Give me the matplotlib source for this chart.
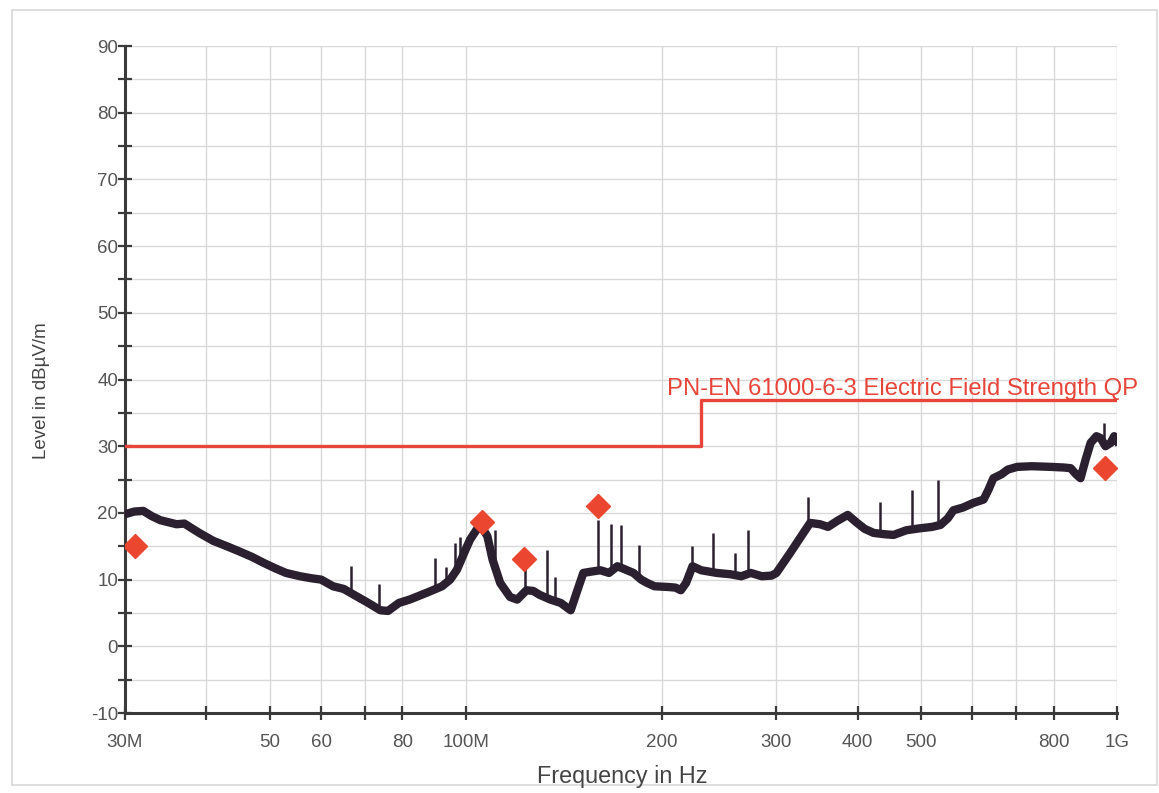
import numpy as np
import matplotlib
matplotlib.use("Agg")
import matplotlib.pyplot as plt
from matplotlib.patches import Rectangle

plt.rcParams['font.family'] = ['Liberation Sans', 'DejaVu Sans']
plt.rcParams['axes.unicode_minus'] = False

# ---- data (MHz, dBuV/m) ----
trace_freq = [30, 31, 32, 33, 34, 36, 37, 39, 41, 43, 45, 47, 49, 51, 53, 55.7, 58, 60,
              62.6, 65, 68, 70.6, 74, 76, 79, 82, 84, 87, 89, 92, 94.7, 97, 98, 100,
              101.6, 104, 106, 108, 110, 113, 117, 120, 124, 127, 130, 135, 140, 145,
              148, 151.6, 156, 161, 166, 171, 176, 181, 186, 190, 195, 204, 210, 214,
              218, 223, 230, 243, 255, 265, 274, 285, 295, 300, 315, 327, 338, 350,
              360, 372, 386, 399, 410, 423, 440, 454, 475, 499, 520, 536, 550, 561,
              580, 602, 624, 635, 646, 665, 680, 703, 740, 791, 830, 849, 865, 879,
              895, 911, 930, 944, 960, 978, 990, 1000]
trace_level = [19.8, 20.2, 20.3, 19.5, 18.9, 18.3, 18.4, 17.0, 15.8, 15.0, 14.2, 13.4,
               12.5, 11.7, 11.0, 10.5, 10.2, 10.0, 9.0, 8.6, 7.5, 6.6, 5.4, 5.3, 6.5,
               7.0, 7.4, 8.0, 8.4, 9.0, 10.0, 11.5, 12.5, 14.5, 16.0, 17.5, 17.8, 16.5,
               13.0, 9.5, 7.4, 7.0, 8.4, 8.3, 7.7, 7.0, 6.5, 5.4, 8.0, 11.0, 11.2, 11.4,
               11.0, 12.0, 11.5, 11.0, 10.0, 9.5, 9.0, 8.9, 8.8, 8.4, 9.5, 12.0, 11.4,
               11.0, 10.8, 10.5, 11.0, 10.5, 10.6, 11.0, 14.0, 16.4, 18.5, 18.3, 17.9,
               18.8, 19.7, 18.5, 17.6, 17.0, 16.8, 16.7, 17.4, 17.7, 17.9, 18.2, 19.2,
               20.4, 20.8, 21.5, 22.0, 23.5, 25.2, 25.8, 26.5, 26.9, 27.0, 26.9, 26.8,
               26.7, 25.8, 25.2, 28.0, 30.5, 31.5, 31.2, 30.0, 30.5, 31.5, 30.8]

spike_freq = [66.7, 73.7, 89.8, 93.4, 96.4, 98.1, 111, 123.5, 133.5, 137, 159.9, 167.3,
              173.4, 184.7, 222.9, 240, 259.5, 271.8, 336, 433, 484, 532, 954]
spike_top = [12.0, 9.3, 13.2, 11.9, 15.5, 16.4, 17.4, 12.0, 14.4, 10.4, 19.0, 18.3,
             18.2, 15.2, 15.0, 17.0, 14.0, 17.4, 22.4, 21.6, 23.4, 24.9, 33.5]

marker_freq = [31.1, 106, 123, 159.9, 957]
marker_level = [15.1, 18.7, 13.1, 21.0, 26.8]

limit_freq = [30, 230, 230, 1000]
limit_level = [30, 30, 37, 37]
limit_name = "PN-EN 61000-6-3 Electric Field Strength QP"

xtick_vals = [30, 40, 50, 60, 70, 80, 100, 200, 300, 400, 500, 600, 700, 800, 1000]
xtick_labels = ["30M", "", "50", "60", "", "80", "100M", "200", "300", "400", "500",
                "", "", "800", "1G"]
ytick_vals = list(range(-10, 91, 10))

# ---- figure ----
W, H = 1159, 793
fig = plt.figure(figsize=(W / 100, H / 100), dpi=100)
fig.patches.append(Rectangle((12 / W, 1 - 785 / H), (1157 - 12) / W, (785 - 10) / H,
                             transform=fig.transFigure, fill=False,
                             edgecolor="#d8d8d8", linewidth=1.2))
ax = fig.add_axes([125 / W, 1 - 713 / H, (1117 - 125) / W, (713 - 46) / H])
ax.set_xscale("log")
ax.set_xlim(30, 1000)
ax.set_ylim(-10, 90)

grid_c = "#d9d9d9"
for xv in xtick_vals:
    ax.axvline(xv, color=grid_c, lw=1.0, zorder=0)
for yv in range(-5, 91, 5):
    ax.axhline(yv, color=grid_c, lw=1.0, zorder=0)

trace_c = "#2b2030"
ax.plot(trace_freq, trace_level, color=trace_c, lw=6, solid_joinstyle="round", zorder=3)
base = np.interp(np.log10(spike_freq), np.log10(trace_freq), trace_level)
ax.vlines(spike_freq, base, spike_top, color=trace_c, lw=1.8, zorder=3)

red = "#e8453a"
ax.plot(limit_freq, limit_level, color=red, lw=2.4, zorder=4)
ax.text(1138 / W, 1 - 395 / H, limit_name, transform=fig.transFigure, ha="right",
        va="baseline", color=red, fontsize=17.2)
ax.plot(marker_freq, marker_level, linestyle="none", marker="D", markersize=12,
        color="#ea4630", zorder=5)

ax.xaxis.set_minor_locator(matplotlib.ticker.NullLocator())
ax.set_xticks(xtick_vals)
ax.set_xticklabels(xtick_labels)
ax.set_yticks(ytick_vals)
ax.set_yticks(list(range(-5, 90, 10)), minor=True)
axis_c = "#3a3a3a"
ax.tick_params(axis="both", which="both", direction="inout", length=10, width=1.6,
               color=axis_c, labelcolor="#555555", labelsize=13.5)
ax.tick_params(axis="x", pad=10)
ax.tick_params(axis="y", pad=0)
for s in ["top", "right"]:
    ax.spines[s].set_visible(False)
for s in ["left", "bottom"]:
    ax.spines[s].set_color(axis_c)
    ax.spines[s].set_linewidth(2.2)

fig.text(622 / W, 1 - 777 / H, "Frequency in Hz", ha="center", va="center",
         color="#444444", fontsize=16.8)
fig.text(42 / W, 1 - 391 / H, "Level in dBµV/m", ha="center", va="center",
         rotation=90, color="#444444", fontsize=13.5)

fig.savefig("out.png", dpi=100)
